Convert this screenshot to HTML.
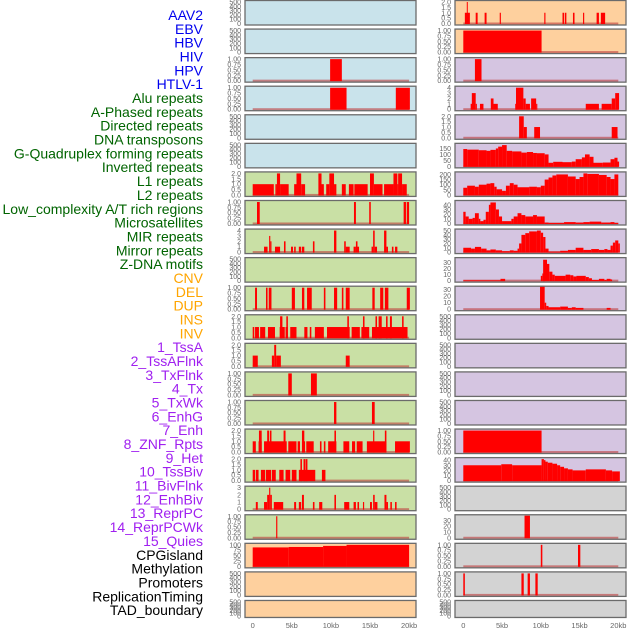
<!DOCTYPE html>
<html><head><meta charset="utf-8">
<style>
html,body{margin:0;padding:0;background:#fff;}
svg{display:block;font-family:"Liberation Sans",sans-serif;}
</style></head>
<body>
<svg id="chart" width="630" height="630" viewBox="0 0 630 630"></svg>
<script>
const trackLabels = ["AAV2","EBV","HBV","HIV","HPV","HTLV-1","Alu repeats","A-Phased repeats","Directed repeats","DNA transposons","G-Quadruplex forming repeats","Inverted repeats","L1 repeats","L2 repeats","Low_complexity A/T rich regions","Microsatellites","MIR repeats","Mirror repeats","Z-DNA motifs","CNV","DEL","DUP","INS","INV","1_TssA","2_TssAFlnk","3_TxFlnk","4_Tx","5_TxWk","6_EnhG","7_Enh","8_ZNF_Rpts","9_Het","10_TssBiv","11_BivFlnk","12_EnhBiv","13_ReprPC","14_ReprPCWk","15_Quies","CPGisland","Methylation","Promoters","ReplicationTiming","TAD_boundary"];
const labelColors = ["#0000ee","#006400","#ffa500","#a020f0","#000000"];
const labelGroups = [6,13,5,15,5];
const xTicks = [0,5,10,15,20];
const xTickLabels = ["0","5kb","10kb","15kb","20kb"];

const T500=["0","100","200","300","400","500"], T1=["0.00","0.25","0.50","0.75","1.00"], T2=["0.0","0.5","1.0","1.5","2.0"];
const T4=["0","1","2","3","4"], T3=["0","1","2","3"];
// left column bars [startKb,endKb,value]
const L_HBV=[[9.9,11.4,1]];
const L_HIV=[[9.9,12,1],[18.3,20.1,1]];
const L_Alu=[[0,2.7,1],[2.9,3.1,1],[3.1,3.5,2],[3.5,4.6,1],[5.3,5.6,1],[5.6,6.2,2],[6.2,6.7,1],[8.4,8.8,2],[8.8,9.1,1],[9.4,9.8,1],[9.8,10.4,2],[10.4,10.7,1],[11.4,11.9,1],[12.3,12.9,1],[13,14.7,1],[15,15.5,2],[15.5,16.6,1],[16.8,18,1],[18,18.5,2],[18.5,18.6,1],[18.6,19.1,2],[19.1,19.7,1]];
const L_APh=[[0.55,0.9,1],[12.95,13.2,1],[14.9,15.1,1],[19.3,19.6,1],[19.7,20,1]];
const L_Dir=[[1.45,1.9,1],[2.1,2.25,3],[2.25,2.4,2],[2.85,3.5,1],[4,4.2,2],[4.9,5.15,1],[5.3,5.5,1],[5.9,6.2,1],[6.3,6.6,1],[7.7,7.9,2],[10.4,10.7,4],[11.7,11.9,2],[11.9,12.4,1],[12.9,13.2,1],[13.2,13.4,2],[13.4,13.6,1],[15.2,15.4,1],[15.4,15.6,4],[15.6,15.9,1],[16.8,17.1,4],[17.1,17.3,1],[17.8,18,1],[18.2,18.5,1]];
const L_GQ=[[0.3,0.55,1],[1.7,1.9,1],[2.05,2.4,1],[5,5.4,1],[6.3,6.6,1],[6.95,7.55,1],[9.1,9.3,1],[10.4,10.8,1],[11.4,11.6,1],[11.9,12.4,1],[15.3,15.6,1],[16.3,16.7,1],[16.9,17.35,1],[19.7,20.1,1]];
const L_Inv=[[0,0.2,1],[0.3,0.8,1],[0.95,1.6,1],[1.95,2.85,1],[3.45,4.1,1],[4.2,4.5,1],[4.8,5.6,1],[6.6,7,1],[7.3,7.5,1],[7.95,9.1,1],[9.5,12.4,1],[12.65,13.7,1],[13.9,14.9,1],[15.25,19.8,1],[3.5,3.8,2],[4.3,4.5,2],[12.1,12.3,2],[14.1,14.3,2],[15.7,15.9,2],[16.1,16.5,2],[17.05,17.25,2],[17.55,17.8,2],[19.1,19.3,2]];
const L_CNV=[[0,0.65,1],[2.45,2.75,1],[2.75,3,2],[3,3.6,1],[11.9,12.4,1]];
const L_DEL=[[4.55,5,1],[7.45,8.2,1]];
const L_DUP=[[10.4,10.7,1],[15.25,15.6,1]];
const L_INS=[[0,0.4,1],[0.75,1.15,1],[1.45,4.35,1],[4.55,5.6,1],[5.75,6.05,1],[6.3,6.7,1],[6.85,7.8,1],[8.6,8.8,1],[9.1,9.3,1],[9.65,10.7,1],[11.6,12.35,1],[12.7,13.1,1],[13.3,14.05,1],[14.6,17.1,1],[18.2,20.1,1],[0.8,1.15,2],[1.85,2.1,2],[2.2,2.4,2],[3.95,4.2,2],[6.3,6.6,2],[10.45,10.65,2],[15.4,15.55,2],[16.9,17.1,2]];
const L_INV=[[0,0.3,1],[0.4,0.75,1],[1.05,1.6,1],[1.7,2.35,1],[2.45,2.95,1],[3.4,3.95,1],[4.2,4.8,1],[5,5.6,1],[5.9,8,1],[8.85,9.3,1],[6.1,6.3,2],[6.5,6.75,2],[6.8,7.0,2]];
const L_TssA=[[0.4,0.65,1],[1.45,1.85,1],[1.85,2.1,2],[2.1,2.25,3],[2.25,2.45,2],[2.7,3.9,1],[5.3,5.55,1],[5.9,6.2,1],[6.3,6.55,2],[7.7,7.9,1],[8.5,8.9,1],[10.45,10.65,2],[11.7,12.35,1],[12.9,13.2,1],[13.4,13.6,1],[14.1,14.25,1],[15,15.25,1],[15.4,15.6,2],[15.6,15.95,1],[16.85,17.1,2],[17.1,17.3,1],[17.6,17.8,1],[18.2,18.4,1]];
const L_TssAF=[[3,3.15,1]];
const L_CpG=[[0,4.6,88],[4.6,9,90],[9,12,95],[12,20,100]];
// right column bars
const R_AAV2=[[0.2,0.85,1],[0.45,0.55,2],[1.6,1.85,1],[2.75,3,1],[4.7,4.85,1],[10.45,10.6,1],[12.8,13,1],[13.1,13.3,1],[14.15,14.35,1],[15.45,15.6,1],[17.2,17.5,1],[17.75,18.3,1]];
const R_EBV=[[0,10.1,1]];
const R_HBV=[[1.5,2.35,1]];
const R_HIV=[[0.95,1.2,1],[1.1,1.6,3],[1.6,1.75,1],[2.15,2.6,1],[3.55,3.9,2],[3.9,4.45,1],[6.7,6.8,1],[6.8,7.75,4],[7.75,8.05,2],[8.05,8.6,1],[8.75,9.4,2],[9.4,9.55,1],[15.8,17.5,1],[17.85,19.15,1],[19.15,19.6,2],[19.6,20.1,3]];
const R_HPV=[[7.2,7.8,2],[7.8,8.2,1],[9.15,9.9,1],[19.15,19.9,1]];
const R_HTLV=[[0,0.5,145],[0.5,2,140],[2,3,135],[3,3.5,130],[3.5,4.2,138],[4.2,4.5,150],[4.5,5,165],[5,5.6,178],[5.6,6.3,130],[6.3,7.5,125],[7.5,8.2,115],[8.2,9,120],[9,9.5,112],[9.5,10.5,110],[10.5,11,100],[11,11.6,30],[11.6,12.8,38],[12.8,14,35],[14,14.5,40],[14.5,15.3,60],[15.3,15.7,75],[15.7,16.3,100],[16.3,16.8,80],[16.8,18,30],[18,19,32],[19,19.5,60],[19.5,19.9,72],[19.9,20.1,40]];
const R_Alu=[[0,0.5,70],[0.5,1.5,90],[1.5,2,80],[2,3,100],[3,3.5,110],[3.5,4,115],[4,4.3,80],[4.3,5,55],[5,5.5,40],[5.5,6,90],[6,6.5,115],[6.5,7,100],[7,8.5,75],[8.5,9.5,80],[9.5,10,75],[10,10.5,90],[10.5,11,150],[11,11.5,170],[11.5,12,190],[12,13.5,200],[13.5,14.5,180],[14.5,15,155],[15,15.5,175],[15.5,16,210],[16,17.5,205],[17.5,18.5,195],[18.5,19,175],[19,19.5,155],[19.5,20,200]];
const R_APh=[[0,0.3,25],[0.3,0.7,15],[0.7,1.2,10],[1.2,1.5,12],[1.5,2,22],[2,2.2,10],[2.2,2.6,5],[2.6,2.9,8],[2.9,3.3,25],[3.3,3.5,40],[3.5,4.2,45],[4.2,4.6,30],[4.6,5,15],[5,6.2,5],[6.2,6.5,10],[6.5,7,15],[7,7.5,22],[7.5,8,18],[8,9,15],[9,9.5,18],[9.5,10.5,15],[10.5,11,2],[11,13,1],[13,14.5,3],[14.5,15.5,2],[15.5,16.3,3],[16.3,17.8,4],[17.8,19,2],[19,19.5,3],[19.5,20,1]];
const R_Dir=[[0,1,10],[1,1.5,8],[1.5,2.3,12],[2.3,3,8],[3,3.5,4],[3.5,4.2,6],[4.2,5,4],[5,6,2],[6,6.5,4],[6.5,7,3],[7,7.2,8],[7.2,7.5,20],[7.5,8,40],[8,8.5,44],[8.5,9.5,48],[9.5,10,50],[10,10.3,45],[10.3,10.6,35],[10.6,11,8],[11,12.5,1],[12.5,13.5,3],[13.5,14.5,5],[14.5,15.5,10],[15.5,16.5,5],[16.5,17.5,7],[17.5,18.2,5],[18.2,18.6,7],[18.6,19,5],[19,19.3,15],[19.3,19.6,22],[19.6,20,27],[20,20.2,20]];
const R_DNA=[[0,4.8,0.5],[4.8,5.4,3],[10,10.2,8],[10.2,10.5,12],[10.3,10.8,35],[10.8,11.1,28],[11.1,11.5,15],[11.5,11.8,10],[11.8,13.2,8],[13.2,13.8,10],[13.8,14.2,9],[14.2,14.6,7],[14.6,15.8,8],[15.8,16.2,6],[16.2,16.6,4],[16.6,17.5,1],[17.5,18.2,3],[18.2,18.5,1],[18.5,19,3],[19,19.2,2]];
const R_GQ=[[9.9,10.5,36],[10.5,10.7,10],[10.7,11,5],[11,12.5,3],[12.5,13.5,4],[13.5,14,2],[14,14.5,3],[14.5,15.5,2],[18.5,19,2]];
const R_Inv2=[[0,10.1,1]];
const R_L2=[[0,4.9,30],[4.9,6.3,32],[6.3,10.1,30],[10.1,10.4,42],[10.4,10.6,40],[10.6,10.9,37],[10.9,11.5,35],[11.5,12.1,33],[12.1,12.5,30],[12.5,13,27],[13,13.5,24],[13.5,14.1,22],[14.1,15.8,20],[15.8,18.4,22],[18.4,19.2,20],[19.2,20.2,18]];
const R_Mic=[[7.9,8.6,38]];
const R_MIR=[[10,10.2,1],[14.8,15.1,1]];
const R_Mir=[[0,0.2,1],[7.5,7.8,1],[8.3,8.6,1],[9.3,9.6,1]];

const BL="#c9e3eb",GR="#c9e0a5",OR="#fed09e",PU="#d5c5e1",GY="#d3d3d3";
const leftPanels=[
 [BL,T500,500,null],[BL,T500,500,null],[BL,T1,1,L_HBV],[BL,T1,1,L_HIV],[BL,T500,500,null],[BL,T500,500,null],
 [GR,T2,2,L_Alu],[GR,T1,1,L_APh],[GR,T4,4,L_Dir],[GR,T500,500,null],[GR,T1,1,L_GQ],[GR,T2,2,L_Inv],
 [GR,T2,2,L_CNV],[GR,T1,1,L_DEL],[GR,T1,1,L_DUP],[GR,T2,2,L_INS],[GR,T2,2,L_INV],[GR,T3,3,L_TssA],[GR,T1,1,L_TssAF],
 [OR,["0","25","50","75","100"],100,L_CpG],[OR,T500,500,null],[OR,T500,500,null]];
const rightPanels=[
 [OR,T2,2,R_AAV2],[OR,T1,1,R_EBV],[PU,T1,1,R_HBV],[PU,T4,4,R_HIV],[PU,T2,2,R_HPV],
 [PU,["0","50","100","150"],180,R_HTLV],[PU,["0","50","100","150","200"],210,R_Alu],[PU,["0","10","20","30","40"],46,R_APh],
 [PU,["0","10","20","30","40","50"],50,R_Dir],[PU,["0","10","20","30"],36,R_DNA],[PU,["0","10","20","30"],33,R_GQ],
 [PU,T500,500,null],[PU,T500,500,null],[PU,T500,500,null],[PU,T500,500,null],
 [PU,T1,1,R_Inv2],[PU,["0","10","20","30","40"],42,R_L2],[GY,T500,500,null],[GY,["0","10","20","30"],37,R_Mic],
 [GY,T1,1,R_MIR],[GY,T1,1,R_Mir],[GY,T500,500,null]];

const NS="http://www.w3.org/2000/svg";
const svg=document.getElementById('chart');
function mk(tag,attrs,parent){const e=document.createElementNS(NS,tag);for(const k in attrs)e.setAttribute(k,attrs[k]);(parent||svg).appendChild(e);return e;}

// labels
let li=0;
labelGroups.forEach((n,g)=>{for(let j=0;j<n;j++){
 const t=mk('text',{x:203,y:15+13.84*li+5,'text-anchor':'end','font-size':'14',fill:labelColors[g]});
 t.textContent=trackLabels[li];
 
 
 li++;}});

function drawColumn(panels,boxX,boxW,x0,pxPerKb,tickX,side){
 const xs=kb=>x0+kb*pxPerKb;
 panels.forEach((p,i)=>{
  const top=28.57*i+0.5, h=(i===21?17:24.5);
  const g=mk('g',{});
  
  
  mk('rect',{x:boxX,y:top,width:boxW,height:h,fill:p[0]},g);
  const y0=top+h-1.5, y1=top+1.5, ymax=p[2];
  const ys=v=>y0-(v/ymax)*(y0-y1);
  if(p[3]){
   mk('rect',{x:xs(0),y:y0-1,width:xs(20)-xs(0),height:2,fill:'rgba(190,60,60,0.6)'},g);
   p[3].forEach(b=>{
    const r=mk('rect',{x:xs(b[0]),y:ys(b[2]),width:Math.max(1,xs(b[1])-xs(b[0])),height:y0-ys(b[2])+0.5,fill:'#ff0000'},g);
    
    
   });
  }
  mk('rect',{x:boxX,y:top,width:boxW,height:h,fill:'none',stroke:'#6b6b6b','stroke-width':1.3},g);
  const tk=p[1];
  tk.forEach((s,k)=>{
   const v=parseFloat(s);
   const ty=y0-(v/(p[2]===500?500:ymax))*(y0-y1);
   if(ty<top-2)return;
   const t=mk('text',{x:tickX,y:ty+2.5,'text-anchor':'end','font-size':'7',fill:'#666'},g);
   t.textContent=s;
  });
 });
 xTicks.forEach((k,i)=>{
  const t=mk('text',{x:xs(k),y:628,'text-anchor':'middle','font-size':'7.5',fill:'#666'});
  t.textContent=xTickLabels[i];
  
  
 });
}
drawColumn(leftPanels,245,171,252.7,7.82,241,'left');
drawColumn(rightPanels,455,171,463.3,7.75,451,'right');
</script>
</body></html>
